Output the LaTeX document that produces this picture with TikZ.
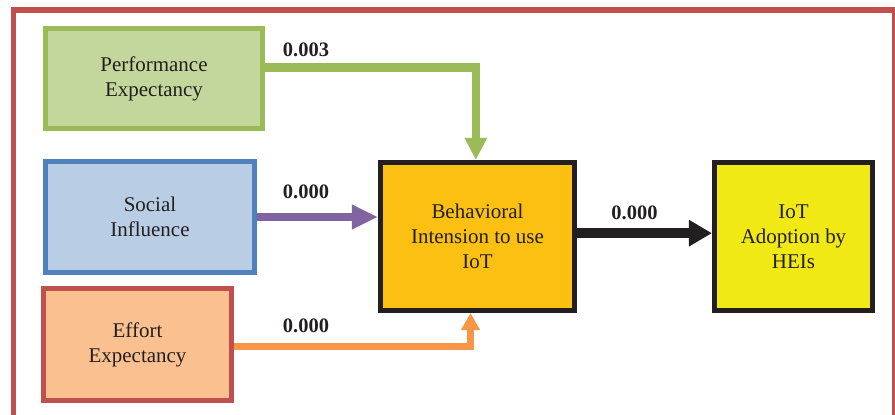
\documentclass[tikz,border=0pt]{standalone}
\usepackage{fontspec}
\setmainfont{Liberation Serif}
\usetikzlibrary{arrows.meta}

\definecolor{frame}{RGB}{192,80,77}
\definecolor{peFill}{RGB}{195,214,155}
\definecolor{peLine}{RGB}{155,187,89}
\definecolor{siFill}{RGB}{185,205,229}
\definecolor{siLine}{RGB}{79,129,189}
\definecolor{eeFill}{RGB}{250,192,144}
\definecolor{eeLine}{RGB}{192,80,77}
\definecolor{biFill}{RGB}{251,192,17}
\definecolor{iotFill}{RGB}{241,233,22}
\definecolor{ink}{RGB}{35,31,32}
\definecolor{purpleArrow}{RGB}{128,100,162}
\definecolor{orangeArrow}{RGB}{247,150,70}

\tikzset{
  box/.style={rectangle, draw, line width=4.3pt, align=center, inner sep=0pt,
    text=ink, font=\fontsize{17.9}{21.5}\selectfont},
  weight/.style={font=\fontsize{17.5}{20}\selectfont\bfseries, text=ink, inner sep=0pt},
  flow/.style={line width=#1}
}

\begin{document}
	\begin{tikzpicture}[x=0.03cm, y=-0.03cm]
		\useasboundingbox (0,0) rectangle (895,414);
		% outer frame
		\draw[frame, line width=5pt] (13.5,10) rectangle (895,418);

		% factors
		\node[box, draw=peLine, fill=peFill, minimum width=6.51cm, minimum height=3.0cm]
			(pe) at (154,78.5) {Performance\\Expectancy};
		\node[box, draw=siLine, fill=siFill, minimum width=6.27cm, minimum height=3.33cm]
			(si) at (150,217) {Social\\Influence};
		\node[box, draw=eeLine, fill=eeFill, minimum width=5.64cm, minimum height=3.36cm]
			(ee) at (137.5,344.5) {Effort\\Expectancy};

		% intention and adoption
		\node[box, draw=ink, fill=biFill, minimum width=5.82cm, minimum height=4.44cm]
			(bi) at (477.5,236.5) {Behavioral\\Intension to use\\IoT};
		\node[box, draw=ink, fill=iotFill, minimum width=4.74cm, minimum height=4.44cm]
			(iot) at (793.5,236.5) {IoT\\Adoption by\\HEIs};

		% paths
		\draw[flow=7pt, peLine, -{Triangle[length=0.66cm, width=0.63cm]}]
			([yshift=0.33cm]pe.east) -| ([xshift=-0.05cm]bi.north);
		\draw[flow=7pt, purpleArrow, -{Triangle[length=0.78cm, width=0.69cm]}]
			(si.east) -- (si.east -| bi.west);
		\draw[flow=6pt, orangeArrow, -{Triangle[length=0.51cm, width=0.54cm]}]
			([yshift=-0.05cm]ee.east) -| ([xshift=-0.21cm]bi.south);
		\draw[flow=8pt, ink, -{Triangle[length=0.69cm, width=0.75cm]}]
			([yshift=0.1cm]bi.east) -- ([yshift=0.1cm]iot.west);

		% path coefficients
		\node[weight] (wpe) at (306,50) {0.003};
		\node[weight] (wsi) at (306,191.5) {0.000};
		\node[weight] (wee) at (306,325.5) {0.000};
		\node[weight] (wbi) at (634.5,212.5) {0.000};
	\end{tikzpicture}
\end{document}
